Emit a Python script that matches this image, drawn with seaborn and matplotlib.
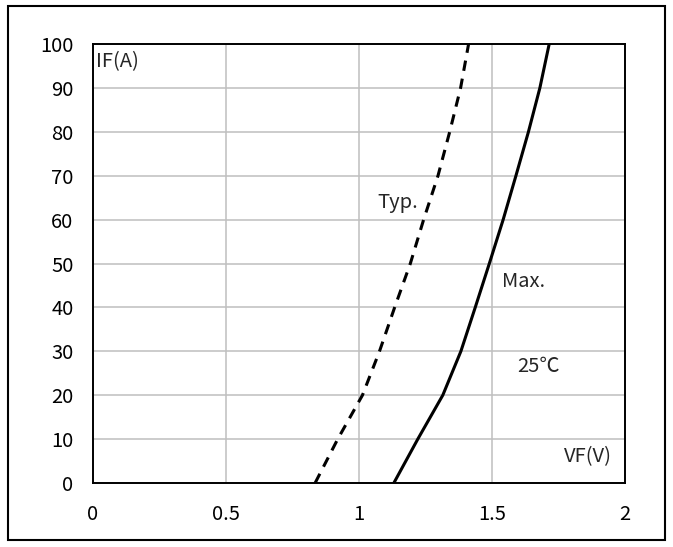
import matplotlib
matplotlib.use("Agg")
import matplotlib.pyplot as plt
import seaborn as sns
import pandas as pd
from matplotlib.patches import Rectangle

# Data
current_a = [0, 10, 20, 30, 40, 50, 60, 70, 80, 90, 100]
vf_typ = [0.835, 0.92, 1.013, 1.077, 1.134, 1.193, 1.243, 1.297, 1.341, 1.382, 1.412]
vf_max = [1.131, 1.221, 1.315, 1.383, 1.437, 1.49, 1.542, 1.59, 1.637, 1.68, 1.715]
x_ticks = [0, 0.5, 1, 1.5, 2]
x_tick_labels = ["0", "0.5", "1", "1.5", "2"]
y_ticks = list(range(0, 101, 10))

sns.set_style("white")
plt.rcParams['font.family'] = ['Noto Sans CJK KR', 'DejaVu Sans']

fig = plt.figure(figsize=(6.73, 5.47), dpi=100)
ax = fig.add_axes([93/673, 1-483/547, (625-93)/673, (483-44)/547])

df_typ = pd.DataFrame({"VF": vf_typ, "IF": current_a})
df_max = pd.DataFrame({"VF": vf_max, "IF": current_a})

sns.lineplot(data=df_typ, x="VF", y="IF", sort=False, estimator=None, ax=ax,
             color="black", linewidth=2.2, zorder=3)
ax.lines[-1].set_dashes([3.4, 2.6])
sns.lineplot(data=df_max, x="VF", y="IF", sort=False, estimator=None, ax=ax,
             color="black", linewidth=2.2, zorder=3)

ax.set_xlim(0, 2)
ax.set_ylim(0, 100)
ax.set_xticks(x_ticks)
ax.set_xticklabels(x_tick_labels)
ax.set_yticks(y_ticks)
ax.grid(True, color="#BFBFBF", linewidth=1.1)
ax.set_axisbelow(True)
for s in ax.spines.values():
    s.set_color("black")
    s.set_linewidth(1.4)
    s.set_visible(True)
fs = 14.5
ax.tick_params(axis="both", length=0, labelsize=fs, colors="black")
ax.tick_params(axis="x", pad=15)
ax.tick_params(axis="y", pad=14)
ax.set_xlabel("")
ax.set_ylabel("")

ax.text(0.01, 95.9, "IF(A)", fontsize=fs, va="center", ha="left")
ax.text(1.951, 6.0, "VF(V)", fontsize=fs, va="center", ha="right")
ax.text(1.223, 63.9, "Typ.", fontsize=fs, va="center", ha="right")
ax.text(1.538, 45.8, "Max.", fontsize=fs, va="center", ha="left")
ax.text(1.595, 26.6, "25℃", fontsize=fs, va="center", ha="left")

fig.patches.append(Rectangle((8/673, 1-540/547), (665-8)/673, (540-6)/547,
                             transform=fig.transFigure, fill=False,
                             edgecolor="black", linewidth=1.5))

fig.savefig("out.png", dpi=100)
